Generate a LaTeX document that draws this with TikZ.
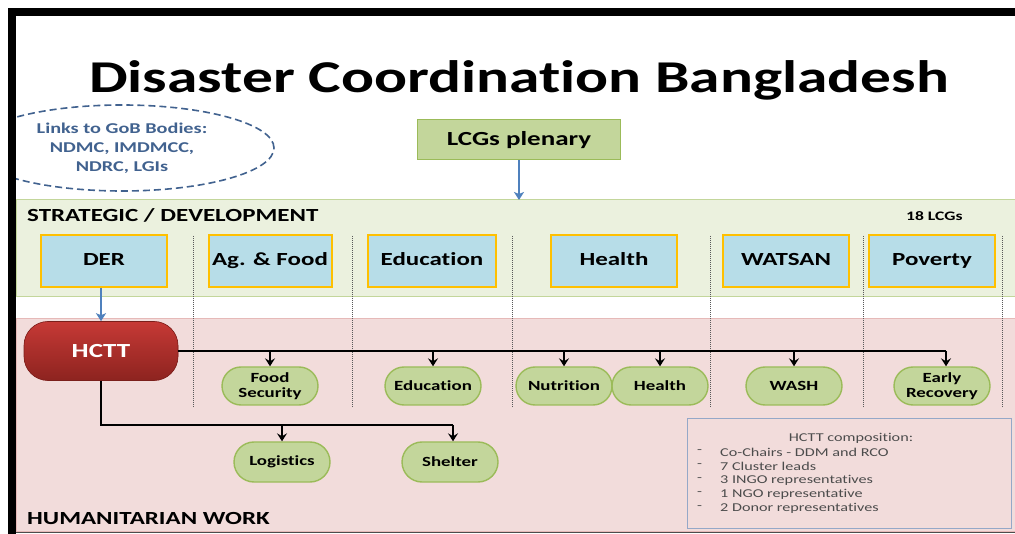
\documentclass[tikz,border=0pt]{standalone}
\usepackage{fontspec}
\setmainfont{Carlito}[FakeStretch=1.35, Ligatures=NoCommon]
\usepackage{tikz}
\usetikzlibrary{%
  arrows,%
  arrows.meta,%
  shapes.geometric,% ellipse
  shapes.misc,% rounded rectangle
  positioning%
}

\definecolor{stratfill}{HTML}{EBF1DE}
\definecolor{stratline}{HTML}{C3D69B}
\definecolor{humfill}{HTML}{F2DCDB}
\definecolor{humline}{HTML}{E6B9B8}
\definecolor{lcgfill}{HTML}{B7DDE8}
\definecolor{lcgline}{HTML}{FFC000}
\definecolor{clufill}{HTML}{C3D69B}
\definecolor{cluline}{HTML}{9BBB59}
\definecolor{hcttred}{HTML}{B02C27}
\definecolor{linkblue}{HTML}{4F81BD}
\definecolor{gobblue}{HTML}{41628F}
\definecolor{compline}{HTML}{95A8C8}

\tikzset{
  lcgbox/.style = {draw=lcgline, line width=2pt, fill=lcgfill,
    minimum width=126pt, minimum height=52pt, inner sep=0pt,
    text height=12pt, text depth=3pt,
    font=\bfseries\fontsize{18.5}{20}\selectfont},
  clubox/.style = {rounded rectangle, draw=cluline, line width=1.4pt, fill=clufill,
    minimum width=96pt, minimum height=38pt, inner sep=0pt, align=center,
    font=\bfseries\fontsize{14}{15.5}\selectfont},
  bandlabel/.style = {anchor=west, inner sep=0pt, font=\bfseries\fontsize{18.5}{20}\selectfont},
  sepline/.style = {densely dotted, gray!70!black, line width=1pt},
  bus/.style = {line width=1.8pt, black},
  drop/.style = {bus, -{Stealth[length=8pt, width=10pt, inset=3pt]}},
  bluearrow/.style = {line width=2.8pt, linkblue, -{Stealth[length=8pt, width=10pt, inset=2pt]}}
}

\begin{document}
\begin{tikzpicture}[x=1pt, y=-1pt]
  \useasboundingbox (0,0) rectangle (1015,534);
  \fill[white] (0,0) rectangle (1015,534);

  % bands
  \draw[fill=stratfill, draw=stratline, line width=1pt] (16,200) rectangle (1016,297);
  \draw[fill=humfill, draw=humline, line width=0.8pt] (16,318) rectangle (1016,531);
  \draw[gray!60!black, line width=1.5pt] (16,532.5) -- (1015,532.5);

  % title
  \node[font=\bfseries\fontsize{45.5}{54}\selectfont] (title) at (519,80) {Disaster Coordination Bangladesh};

  % links to government
  \begin{scope}
    \clip (16,17) rectangle (1015,534);
    \node[ellipse, draw=gobblue, dash pattern=on 7pt off 4pt, line width=1.6pt, minimum width=304pt,
      minimum height=86pt, inner sep=0pt, align=center, text=gobblue,
      font=\bfseries\fontsize{15}{19}\selectfont] (gob) at (122,148)
      {Links to GoB Bodies:\\NDMC, IMDMCC,\\NDRC, LGIs};
  \end{scope}

  % plenary
  \node[draw=cluline, line width=1pt, fill=clufill, minimum width=203pt,
    minimum height=40pt, font=\bfseries\fontsize{20}{22}\selectfont] (plenary) at (519,140) {LCGs plenary};

  \node[bandlabel] (strat) at (27,215) {STRATEGIC / DEVELOPMENT};
  \node[bandlabel, font=\bfseries\fontsize{13}{15}\selectfont] (lcgs) at (906,216) {18 LCGs};
  \node[bandlabel] (hum) at (27,519) {HUMANITARIAN WORK};

  % separators
  \foreach \sx in {193,352,512,710,863,1002}
    \draw[sepline] (\sx,236) -- (\sx,407);

  % local consultative groups
  \node[lcgbox] (der) at (104,261) {DER};
  \node[lcgbox, minimum width=123pt] (agfood) at (270,261) {Ag. \& Food};
  \node[lcgbox, minimum width=128pt] (educ) at (432,261) {Education};
  \node[lcgbox] (health) at (614,261) {Health};
  \node[lcgbox] (watsan) at (786,261) {WATSAN};
  \node[lcgbox] (poverty) at (932,261) {Poverty};

  % humanitarian coordination
  \node[rounded corners=24pt, fill=hcttred, top color=hcttred!80!red!90!white, bottom color=hcttred!80!black,
    draw=hcttred!70!black, line width=0.6pt, minimum width=154pt, minimum height=59pt,
    text=white, font=\bfseries\fontsize{20}{22}\selectfont] (hctt) at (101,351) {HCTT};

  \draw[bluearrow] (plenary.south) -- (519,200);
  \draw[bluearrow] (der.south -| hctt.north) -- (hctt.north);

  % clusters
  \node[clubox] (foodsec) at (270,386) {Food\\Security};
  \node[clubox] (educlu) at (433,386) {Education};
  \node[clubox] (nutri) at (564,386) {Nutrition};
  \node[clubox] (healthclu) at (660,386) {Health};
  \node[clubox] (wash) at (794,386) {WASH};
  \node[clubox] (early) at (942,386) {Early\\Recovery};
  \node[clubox, minimum height=40pt] (logist) at (282,462) {Logistics};
  \node[clubox, minimum height=40pt] (shelter) at (450,462) {Shelter};

  % cluster lines
  \coordinate (topbus) at (946,351);
  \coordinate (lowbus) at (453,425);
  \draw[bus] (hctt.east) -- (topbus);
  \draw[drop] (topbus) -- (topbus |- early.north);
  \foreach \cl in {foodsec,educlu,nutri,healthclu,wash}
    \draw[drop] (topbus -| \cl.north) -- (\cl.north);
  \draw[bus] (hctt.south) |- (lowbus);
  \draw[drop] (lowbus) -- (lowbus |- shelter.north);
  \draw[drop] (lowbus -| logist.north) -- (logist.north);

  % composition
  \draw[draw=compline, line width=1pt, fill=humfill] (687,419) rectangle (1011,528);
  \node[font=\fontsize{12}{13}\selectfont, text=black!70, inner sep=0pt] (comptitle) at (851,438) {HCTT composition:};
  \foreach \txt [count=\i] in {Co-Chairs - DDM and RCO,7 Cluster leads,3 INGO representatives,1 NGO representative,2 Donor representatives} {
    \node[anchor=west, inner sep=0pt, text=black!70, font=\fontsize{12}{13}\selectfont] at (697,438+\i*14) {-};
    \node[anchor=west, inner sep=0pt, text=black!70, font=\fontsize{12}{13}\selectfont] at (720,438+\i*14) {\txt};
  }

  % frame
  \fill[black] (8,8) rectangle (1015,16);
  \fill[black] (8,8) rectangle (16,534);
\end{tikzpicture}
\end{document}
